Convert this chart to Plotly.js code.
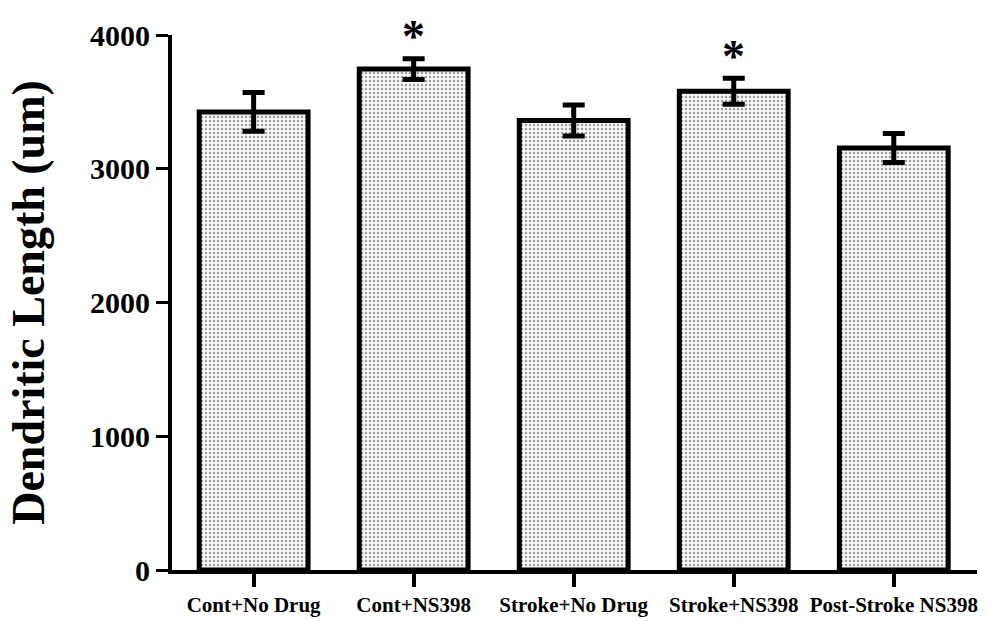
<!DOCTYPE html>
<html>
<head>
<meta charset="utf-8">
<script src="https://cdn.plot.ly/plotly-3.0.1.min.js"></script>
<style>html,body{margin:0;padding:0;background:#fff;}#chart{width:989px;height:621px;}</style>
</head>
<body>
<div id="chart"></div>
<script>
var categories = ["Cont+No Drug", "Cont+NS398", "Stroke+No Drug", "Stroke+NS398", "Post-Stroke NS398"];
var meanLength = [3425, 3745, 3360, 3580, 3155];
var semLength = [145, 78, 116, 97, 108];
var significant = [false, true, false, true, false];
var yTickVals = [0, 1000, 2000, 3000, 4000];
var yTickText = ["0", "1000", "2000", "3000", "4000"];

var serif = "'Liberation Serif', 'Times New Roman', serif";

var trace = {
  type: "bar",
  x: categories,
  y: meanLength,
  width: 0.68,
  marker: {
    color: "#ffffff",
    line: {color: "#000000", width: 5},
    pattern: {shape: ".", fgcolor: "#a0a0a0", bgcolor: "#f8f8f8", size: 4, solidity: 0.3}
  },
  error_y: {type: "data", array: semLength, visible: true, color: "#000000", thickness: 5, width: 11},
  hoverinfo: "x+y"
};

var annotations = [];
for (var i = 0; i < categories.length; i++) {
  if (significant[i]) {
    annotations.push({
      x: categories[i], y: meanLength[i] + semLength[i],
      xref: "x", yref: "y", text: "<b>*</b>", showarrow: false,
      yanchor: "middle", yshift: 22,
      font: {family: serif, size: 46, color: "#000"}
    });
  }
}

var layout = {
  width: 989, height: 621,
  margin: {l: 172, r: 12, t: 35, b: 51},
  paper_bgcolor: "#ffffff", plot_bgcolor: "#ffffff",
  showlegend: false,
  bargap: 0.32,
  xaxis: {
    type: "category",
    range: [-0.51, 4.52],
    showline: true, linecolor: "#000", linewidth: 4,
    ticks: "outside", ticklen: 13, tickwidth: 4, tickcolor: "#000",
    showgrid: false, zeroline: false,
    tickfont: {family: serif, size: 21, color: "#000", weight: "bold"},
    automargin: false
  },
  yaxis: {
    range: [0, 4000],
    tickvals: yTickVals, ticktext: yTickText,
    showline: true, linecolor: "#000", linewidth: 4,
    ticks: "outside", ticklen: 12, tickwidth: 3, tickcolor: "#000",
    showgrid: false, zeroline: false,
    tickfont: {family: serif, size: 30, color: "#000", weight: "bold"},
    title: {text: "Dendritic Length (um)", font: {family: serif, size: 46, color: "#000", weight: "bold"}, standoff: 32},
    automargin: false
  },
  annotations: annotations,
  font: {family: serif, color: "#000"}
};

Plotly.newPlot("chart", [trace], layout, {displayModeBar: false, staticPlot: true});
</script>
</body>
</html>
